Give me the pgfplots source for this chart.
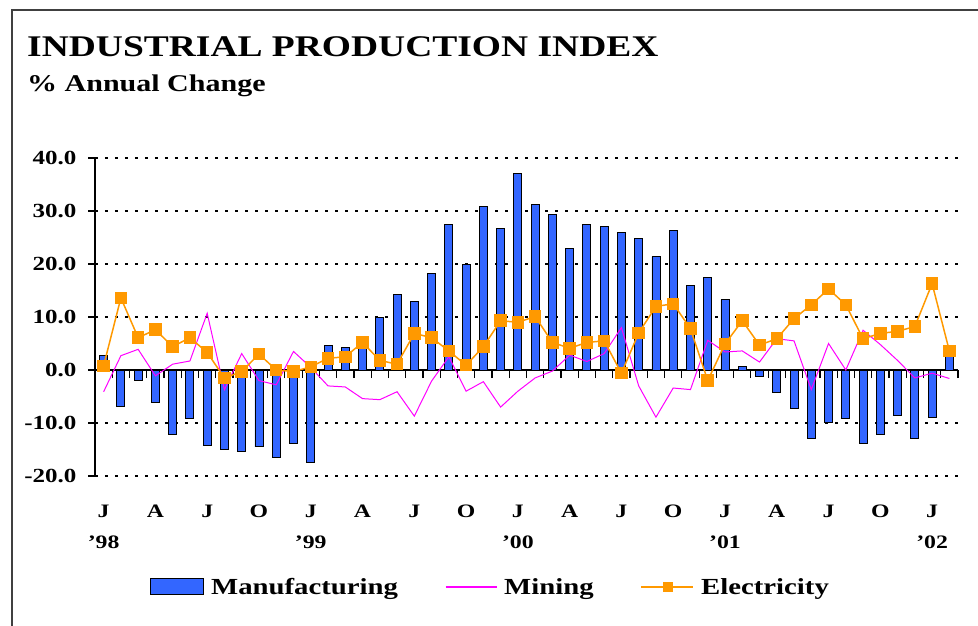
\documentclass[border=0pt]{standalone}
\usepackage{fontspec}
\setmainfont{Liberation Serif}[FakeStretch=1.25]
\usepackage{pgfplots}
\pgfplotsset{compat=1.18}
\definecolor{mfg}{RGB}{51,102,255}
\definecolor{ele}{RGB}{255,153,0}
\definecolor{mine}{RGB}{255,0,255}
\newcommand\fs[1]{\fontsize{#1bp}{#1bp}\selectfont\bfseries}
\begin{document}
\begin{tikzpicture}
\useasboundingbox (-95bp,-150bp) rectangle (883bp,476bp);
\draw[line width=1.5bp, black!75] (-83bp,-151bp) -- (-83bp,466bp) -- (884bp,466bp);
\node[anchor=base west, inner sep=0pt, font=\fs{30}] at (-68bp,419bp) {INDUSTRIAL PRODUCTION INDEX};
\node[anchor=base west, inner sep=0pt, font=\fs{24}] at (-68bp,384bp) {\% Annual Change};
\begin{axis}[
  at={(0bp,0bp)}, anchor=south west,
  scale only axis, width=863bp, height=318bp,
  xmin=-0.5, xmax=49.5, ymin=-20, ymax=40,
  enlargelimits=false, clip=false,
  axis x line=middle, axis y line=left,
  axis line style={-, line width=1.4bp, black},
  xtick={-0.5,0.5,...,49.5}, xticklabels={},
  ytick={-20,-10,...,40},
  tick align=center, major tick length=8bp,
  tick style={line width=1.2bp, black},
  x tick style={yshift=-4bp},
  y tick style={xshift=-2.5bp},
  ymajorgrids,
  major grid style={black, line width=1.3bp, dash pattern=on 3bp off 7bp},
  yticklabel style={font=\fs{20}, xshift=-11bp, /pgf/number format/.cd, fixed, fixed zerofill, precision=1, assume math mode=true},
  legend style={at={(axis description cs:0.0637,-0.349)}, anchor=west, draw=none, fill=none,
    font=\fs{23}, legend columns=3, inner sep=0pt,
    /tikz/every odd column/.append style={column sep=5bp},
    /tikz/every even column/.append style={column sep=45bp}},
]
\addplot[ybar, bar width=8bp, fill=mfg, draw=black, line width=0.9bp,
  legend image code/.code={\draw[fill=mfg, draw=black, line width=1bp] (0bp,-8bp) rectangle (53bp,8bp);}]
coordinates {
(0,2.7)(1,-6.9)(2,-2.0)(3,-6.2)(4,-12.2)(5,-9.2)(6,-14.2)(7,-14.9)(8,-15.4)(9,-14.5)
(10,-16.5)(11,-13.8)(12,-17.5)(13,4.7)(14,4.2)(15,4.8)(16,9.9)(17,14.2)(18,13.0)(19,18.3)
(20,27.5)(21,19.9)(22,30.8)(23,26.7)(24,37.0)(25,31.3)(26,29.4)(27,22.9)(28,27.5)(29,27.0)
(30,25.9)(31,24.8)(32,21.4)(33,26.3)(34,16.0)(35,17.5)(36,13.3)(37,0.7)(38,-1.3)(39,-4.2)
(40,-7.3)(41,-13.0)(42,-9.9)(43,-9.2)(44,-13.8)(45,-12.2)(46,-8.5)(47,-13.0)(48,-8.9)(49,3.0)
};
\addlegendentry{Manufacturing}
\addplot[mine, line width=1bp, no marks,
  legend image code/.code={\draw[mine, line width=1.2bp] (0bp,0bp) -- (51bp,0bp);}]
coordinates {
(0,-4.1)(1,2.7)(2,3.9)(3,-1.1)(4,1.1)(5,1.7)(6,10.7)(7,-3.7)(8,3.1)(9,-2.0)
(10,-2.8)(11,3.5)(12,0.5)(13,-3.0)(14,-3.2)(15,-5.4)(16,-5.6)(17,-4.1)(18,-8.7)(19,-2.1)
(20,2.5)(21,-4.0)(22,-2.2)(23,-7.0)(24,-4.0)(25,-1.5)(26,-0.2)(27,2.8)(28,1.6)(29,3.1)
(30,8.0)(31,-3.0)(32,-8.9)(33,-3.4)(34,-3.7)(35,5.6)(36,3.4)(37,3.6)(38,1.5)(39,5.9)
(40,5.5)(41,-3.7)(42,5.0)(43,0.0)(44,7.5)(45,4.8)(46,1.8)(47,-1.5)(48,-0.6)(49,-1.6)
};
\addlegendentry{Mining}
\addplot[ele, line width=1.5bp, mark=square*, mark size=5.5bp, mark options={fill=ele, draw=ele, solid},
  legend image code/.code={\draw[ele, line width=1.5bp] (0bp,0bp) -- (52bp,0bp);
    \fill[ele] (22bp,-4.5bp) rectangle (31bp,4.5bp);}]
coordinates {
(0,0.8)(1,13.6)(2,6.1)(3,7.6)(4,4.4)(5,6.1)(6,3.3)(7,-1.5)(8,-0.3)(9,3.0)
(10,0.0)(11,-0.3)(12,0.6)(13,2.2)(14,2.5)(15,5.2)(16,1.8)(17,1.1)(18,6.9)(19,6.1)
(20,3.6)(21,0.9)(22,4.4)(23,9.3)(24,9.0)(25,10.1)(26,5.2)(27,4.1)(28,5.2)(29,5.5)
(30,-0.6)(31,7.0)(32,12.0)(33,12.5)(34,7.8)(35,-2.0)(36,4.9)(37,9.3)(38,4.7)(39,5.9)
(40,9.7)(41,12.3)(42,15.3)(43,12.3)(44,5.9)(45,6.9)(46,7.3)(47,8.2)(48,16.3)(49,3.6)
};
\addlegendentry{Electricity}
% month labels
\node[anchor=base, inner sep=0pt, font=\fs{19}, yshift=-41bp] at (axis cs:0,-20) {J};
\node[anchor=base, inner sep=0pt, font=\fs{19}, yshift=-41bp] at (axis cs:3,-20) {A};
\node[anchor=base, inner sep=0pt, font=\fs{19}, yshift=-41bp] at (axis cs:6,-20) {J};
\node[anchor=base, inner sep=0pt, font=\fs{19}, yshift=-41bp] at (axis cs:9,-20) {O};
\node[anchor=base, inner sep=0pt, font=\fs{19}, yshift=-41bp] at (axis cs:12,-20) {J};
\node[anchor=base, inner sep=0pt, font=\fs{19}, yshift=-41bp] at (axis cs:15,-20) {A};
\node[anchor=base, inner sep=0pt, font=\fs{19}, yshift=-41bp] at (axis cs:18,-20) {J};
\node[anchor=base, inner sep=0pt, font=\fs{19}, yshift=-41bp] at (axis cs:21,-20) {O};
\node[anchor=base, inner sep=0pt, font=\fs{19}, yshift=-41bp] at (axis cs:24,-20) {J};
\node[anchor=base, inner sep=0pt, font=\fs{19}, yshift=-41bp] at (axis cs:27,-20) {A};
\node[anchor=base, inner sep=0pt, font=\fs{19}, yshift=-41bp] at (axis cs:30,-20) {J};
\node[anchor=base, inner sep=0pt, font=\fs{19}, yshift=-41bp] at (axis cs:33,-20) {O};
\node[anchor=base, inner sep=0pt, font=\fs{19}, yshift=-41bp] at (axis cs:36,-20) {J};
\node[anchor=base, inner sep=0pt, font=\fs{19}, yshift=-41bp] at (axis cs:39,-20) {A};
\node[anchor=base, inner sep=0pt, font=\fs{19}, yshift=-41bp] at (axis cs:42,-20) {J};
\node[anchor=base, inner sep=0pt, font=\fs{19}, yshift=-41bp] at (axis cs:45,-20) {O};
\node[anchor=base, inner sep=0pt, font=\fs{19}, yshift=-41bp] at (axis cs:48,-20) {J};
% year labels
\node[anchor=base, inner sep=0pt, font=\fs{19}, yshift=-72bp] at (axis cs:0,-20) {'98};
\node[anchor=base, inner sep=0pt, font=\fs{19}, yshift=-72bp] at (axis cs:12,-20) {'99};
\node[anchor=base, inner sep=0pt, font=\fs{19}, yshift=-72bp] at (axis cs:24,-20) {'00};
\node[anchor=base, inner sep=0pt, font=\fs{19}, yshift=-72bp] at (axis cs:36,-20) {'01};
\node[anchor=base, inner sep=0pt, font=\fs{19}, yshift=-72bp] at (axis cs:48,-20) {'02};
\end{axis}
\end{tikzpicture}
\end{document}
